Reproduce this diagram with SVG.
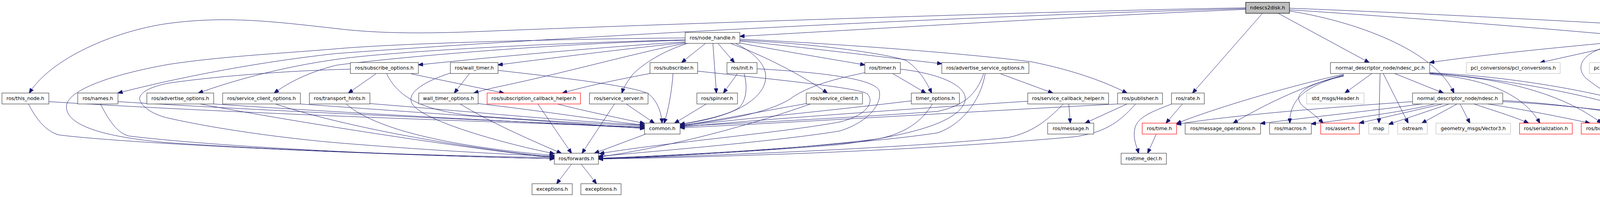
<svg xmlns="http://www.w3.org/2000/svg" width="5154" height="504" viewBox="0 0 5154 504">
<style>
.n rect{fill:#fff;stroke:#404040;stroke-width:1.2}
.g rect{fill:#fff;stroke:#bfbfbf;stroke-width:1.2}
.r rect{fill:#fff;stroke:#ff0000;stroke-width:1.2}
.root rect{fill:#bfbfbf;stroke:#000;stroke-width:1.2}
text{font-family:"DejaVu Sans","Liberation Sans",sans-serif;font-size:12.7px;text-anchor:middle;fill:#000}
.e path{fill:none;stroke:#191970;stroke-width:1;marker-end:url(#a)}
</style>
<defs>
<marker id="a" markerWidth="13" markerHeight="10" refX="12" refY="5" orient="auto" markerUnits="userSpaceOnUse">
<path d="M0,0 L13,5 L0,10 z" fill="#191970" stroke="#191970" stroke-width="1"/>
</marker>
</defs>
<rect width="5154" height="504" fill="#fff"/>
<g class="e" id="edges">
<path d="M3189,24 C2800,40 2300,70 1894,93"/>
<path d="M3189,20 C2700,28 1700,62 1290,78 C1150,84 1000,90 860,73 C700,55 580,40 430,60 C290,80 130,150 75,238"/>
<path d="M3189,22 C2500,40 1500,90 860,137 C650,160 450,200 302,238"/>
<path d="M3232,34 L3053,238"/>
<path d="M3272,34 L3505,160"/>
<path d="M3301,28 C3500,60 3680,140 3722,238"/>
<path d="M3301,25 C3600,45 3900,68 4143,90"/>
<path d="M3301,21 C3800,40 4500,80 4730,98 C5000,125 5150,150 5147,182 C5145,230 5000,270 4730,302 C4600,316 4500,322 4419,327"/>
<path d="M1806,111 L1745,160"/>
<path d="M1825,111 L1834,238"/>
<path d="M1838,111 L1880,160"/>
<path d="M1870,111 C1950,140 2050,190 2118,238"/>
<path d="M1883,111 C1940,140 1980,180 1950,230 C1910,290 1800,310 1741,318"/>
<path d="M1894,100 C2200,115 2500,140 2640,158 C2750,180 2830,210 2885,238"/>
<path d="M1894,110 C2000,130 2120,150 2214,166"/>
<path d="M1894,105 C2050,120 2250,145 2411,163"/>
<path d="M1894,103 C2100,112 2280,140 2320,155 C2350,175 2370,205 2385,238"/>
<path d="M1754,97 C1400,100 1000,112 860,125 C700,138 560,145 430,165 C290,190 170,230 170,273 C170,320 260,350 430,365 C800,390 1200,400 1419,403"/>
<path d="M1754,102 C1400,110 1000,132 860,152 C720,172 600,205 508,238"/>
<path d="M1754,103 C1400,112 1000,148 860,167 C790,185 740,210 702,238"/>
<path d="M1754,107 C1550,120 1300,142 1071,166"/>
<path d="M1754,109 C1600,125 1400,150 1275,166"/>
<path d="M1754,111 C1650,130 1450,185 1290,219 C1260,225 1240,230 1213,238"/>
<path d="M1760,111 C1700,130 1650,160 1620,190 C1605,210 1596,225 1592,238"/>
<path d="M1664,188 C1600,200 1500,220 1440,238"/>
<path d="M1723,188 C1720,230 1712,280 1700,315"/>
<path d="M1786,182 C2000,205 2200,225 2220,240 C2240,260 2220,295 2150,312 C2000,340 1700,365 1535,393"/>
<path d="M1888,188 L1852,238"/>
<path d="M1905,189 C1915,225 1910,260 1890,277 C1860,295 1800,308 1741,318"/>
<path d="M1938,176 C2100,185 2230,200 2250,230 C2260,260 2230,310 2150,335 C2000,360 1700,385 1532,400"/>
<path d="M1808,266 L1727,315"/>
<path d="M2064,265 C1950,285 1850,305 1741,322"/>
<path d="M2075,266 C1950,310 1750,370 1532,402"/>
<path d="M2285,188 L2370,238"/>
<path d="M2214,186 C2120,205 2060,225 2020,255 C1960,290 1850,310 1741,320"/>
<path d="M2305,177 C2420,190 2480,225 2470,260 C2450,320 2300,350 2150,370 C1900,390 1700,400 1532,405"/>
<path d="M2333,258 C2150,280 1900,305 1741,322"/>
<path d="M2387,266 C2360,310 2320,340 2250,355 C2050,380 1750,400 1532,406"/>
<path d="M2562,189 L2695,238"/>
<path d="M2518,189 C2500,240 2470,270 2400,285 C2200,300 1900,315 1741,323"/>
<path d="M2522,189 C2510,260 2460,320 2400,340 C2200,370 1800,395 1532,405"/>
<path d="M2736,266 L2740,315"/>
<path d="M2722,266 C2680,310 2640,340 2580,352 C2300,380 1800,400 1532,406"/>
<path d="M2631,259 C2300,280 1900,310 1741,325"/>
<path d="M2885,266 L2778,315"/>
<path d="M2907,266 C2860,320 2820,340 2750,350 C2300,390 1800,402 1532,407"/>
<path d="M2861,266 C2500,285 2000,315 1741,327"/>
<path d="M3027,266 L2985,315"/>
<path d="M3000,266 C2950,285 2910,300 2905,330 C2900,355 2910,375 2915,392"/>
<path d="M2960,343 L2938,392"/>
<path d="M1377,266 L1463,392"/>
<path d="M1427,266 C1500,285 1600,305 1650,316"/>
<path d="M1573,266 L1490,392"/>
<path d="M1603,266 L1675,315"/>
<path d="M1653,343 L1522,392"/>
<path d="M1202,188 L1163,238"/>
<path d="M1275,180 C1450,200 1620,220 1660,240 C1685,260 1693,290 1695,315"/>
<path d="M1153,187 C1080,210 1040,240 1055,265 C1080,310 1300,370 1419,393"/>
<path d="M1224,265 C1400,285 1550,310 1650,320"/>
<path d="M1178,266 C1250,310 1350,355 1437,392"/>
<path d="M962,189 L892,238"/>
<path d="M1053,189 L1290,238"/>
<path d="M990,189 C1020,250 1080,280 1200,295 C1400,310 1550,318 1650,322"/>
<path d="M897,177 C750,180 550,195 430,213 C370,225 350,245 360,260 C370,280 400,295 430,302 C600,340 800,360 860,365 C1100,385 1300,395 1419,400"/>
<path d="M947,265 C1200,285 1450,310 1650,320"/>
<path d="M887,267 C950,320 1100,370 1419,398"/>
<path d="M125,260 C600,290 1200,310 1650,325"/>
<path d="M73,266 C90,300 115,335 150,345 C300,365 900,395 1419,406"/>
<path d="M302,260 C700,285 1200,305 1650,326"/>
<path d="M257,266 C280,310 300,340 330,348 C600,380 1100,400 1419,406"/>
<path d="M547,266 C900,290 1300,310 1650,328"/>
<path d="M512,266 C800,320 1200,380 1419,404"/>
<path d="M769,266 C1100,290 1400,310 1650,329"/>
<path d="M705,266 C900,330 1200,380 1419,402"/>
<path d="M1463,420 L1425,470"/>
<path d="M1488,420 L1527,470"/>
<path d="M4165,111 L3943,160"/>
<path d="M4218,111 L4175,160"/>
<path d="M4245,111 L4292,160"/>
<path d="M4263,111 L4365,160"/>
<path d="M4300,111 L4560,160"/>
<path d="M4320,102 C4500,115 4700,140 4829,162"/>
<path d="M4320,104 C4600,120 4800,140 4927,160"/>
<path d="M4143,107 C3950,125 3800,140 3660,160"/>
<path d="M4143,112 C4050,130 4030,170 4060,200 C4120,250 4220,290 4270,315"/>
<path d="M3512,188 L3443,238"/>
<path d="M3533,188 L3530,315"/>
<path d="M3541,188 L3605,315"/>
<path d="M3570,188 L3695,238"/>
<path d="M3440,190 C3300,220 3100,280 3012,316"/>
<path d="M3440,192 C3350,215 3250,260 3157,315"/>
<path d="M3440,193 C3360,215 3300,245 3302,315"/>
<path d="M3440,195 C3340,215 3300,245 3340,275 C3360,290 3375,302 3387,315"/>
<path d="M3660,190 C3800,200 3900,240 3942,315"/>
<path d="M3660,188 C3850,200 4000,240 4100,315"/>
<path d="M3660,187 C3900,205 4150,260 4270,313"/>
<path d="M3660,186 C3950,200 4200,260 4352,317"/>
<path d="M3616,260 C3400,275 3150,295 3012,318"/>
<path d="M3640,266 C3500,285 3350,300 3227,316"/>
<path d="M3673,266 C3600,285 3450,305 3357,317"/>
<path d="M3693,266 L3480,315"/>
<path d="M3710,266 L3555,318"/>
<path d="M3730,266 L3640,315"/>
<path d="M3738,266 L3763,315"/>
<path d="M3773,266 C3830,285 3880,300 3913,315"/>
<path d="M3808,266 C3900,280 4000,300 4070,315"/>
<path d="M3847,257 C4000,265 4200,295 4275,315"/>
<path d="M3847,260 C4050,270 4250,300 4360,318"/>
</g>
<g id="root" class="root"><rect x="3189" y="6" width="112" height="28"/><text x="3245" y="24">ndescs2disk.h</text></g>
<g id="node_handle" class="n"><rect x="1754" y="83" width="140" height="28"/><text x="1824" y="101">ros/node_handle.h</text></g>
<g id="alg" class="n"><rect x="4143" y="83" width="177" height="28"/><text x="4231.5" y="101">normal_descriptor_alg.h</text></g>
<g id="subscribe_options" class="n"><rect x="897" y="160" width="174" height="28"/><text x="984" y="178">ros/subscribe_options.h</text></g>
<g id="wall_timer" class="n"><rect x="1153" y="160" width="122" height="28"/><text x="1214" y="178">ros/wall_timer.h</text></g>
<g id="subscriber" class="n"><rect x="1664" y="160" width="122" height="28"/><text x="1725" y="178">ros/subscriber.h</text></g>
<g id="init" class="n"><rect x="1861" y="160" width="77" height="28"/><text x="1899.5" y="178">ros/init.h</text></g>
<g id="timer" class="n"><rect x="2214" y="160" width="91" height="28"/><text x="2259.5" y="178">ros/timer.h</text></g>
<g id="adv_srv_opts" class="n"><rect x="2411" y="160" width="223" height="28"/><text x="2522.5" y="178">ros/advertise_service_options.h</text></g>
<g id="ndesc_pc" class="n"><rect x="3406" y="160" width="254" height="28"/><text x="3533" y="178">normal_descriptor_node/ndesc_pc.h</text></g>
<g id="pcl_conv" class="g"><rect x="3754" y="160" width="240" height="28"/><text x="3874" y="178">pcl_conversions/pcl_conversions.h</text></g>
<g id="normal_3d" class="g"><rect x="4069" y="160" width="181" height="28"/><text x="4159.5" y="178">pcl/features/normal_3d.h</text></g>
<g id="cmath" class="g"><rect x="4274" y="160" width="63" height="28"/><text x="4305.5" y="178">cmath</text></g>
<g id="sstream" class="g"><rect x="4360" y="160" width="75" height="28"/><text x="4397.5" y="178">sstream</text></g>
<g id="ndconfig" class="g"><rect x="4458" y="160" width="347" height="28"/><text x="4631.5" y="178">normal_descriptor_node/NormalDescriptorConfig.h</text></g>
<g id="mutex" class="g"><rect x="4829" y="160" width="75" height="28"/><text x="4866.5" y="178">mutex.h</text></g>
<g id="pointcloud2" class="g"><rect x="4927" y="160" width="199" height="28"/><text x="5026.5" y="178">sensor_msgs/PointCloud2.h</text></g>
<g id="this_node" class="n"><rect x="5" y="238" width="120" height="28"/><text x="65" y="256">ros/this_node.h</text></g>
<g id="names" class="n"><rect x="199" y="238" width="103" height="28"/><text x="250.5" y="256">ros/names.h</text></g>
<g id="adv_opts" class="n"><rect x="376" y="238" width="171" height="28"/><text x="461.5" y="256">ros/advertise_options.h</text></g>
<g id="srv_client_opts" class="n"><rect x="570" y="238" width="199" height="28"/><text x="669.5" y="256">ros/service_client_options.h</text></g>
<g id="transport_hints" class="n"><rect x="792" y="238" width="155" height="28"/><text x="869.5" y="256">ros/transport_hints.h</text></g>
<g id="wall_timer_opts" class="n"><rect x="1072" y="238" width="152" height="28"/><text x="1148" y="256">wall_timer_options.h</text></g>
<g id="sub_cb_helper" class="r"><rect x="1247" y="238" width="239" height="28"/><text x="1366.5" y="256">ros/subscription_callback_helper.h</text></g>
<g id="service_server" class="n"><rect x="1509" y="238" width="150" height="28"/><text x="1584" y="256">ros/service_server.h</text></g>
<g id="spinner" class="n"><rect x="1784" y="238" width="104" height="28"/><text x="1836" y="256">ros/spinner.h</text></g>
<g id="service_client" class="n"><rect x="2064" y="238" width="144" height="28"/><text x="2136" y="256">ros/service_client.h</text></g>
<g id="timer_opts" class="n"><rect x="2333" y="238" width="123" height="28"/><text x="2394.5" y="256">timer_options.h</text></g>
<g id="srv_cb_helper" class="n"><rect x="2631" y="238" width="207" height="28"/><text x="2734.5" y="256">ros/service_callback_helper.h</text></g>
<g id="publisher" class="n"><rect x="2861" y="238" width="115" height="28"/><text x="2918.5" y="256">ros/publisher.h</text></g>
<g id="rate" class="n"><rect x="2999" y="238" width="84" height="28"/><text x="3041" y="256">ros/rate.h</text></g>
<g id="header" class="g"><rect x="3345" y="238" width="147" height="28"/><text x="3418.5" y="256">std_msgs/Header.h</text></g>
<g id="ndesc" class="n"><rect x="3616" y="238" width="231" height="28"/><text x="3731.5" y="256">normal_descriptor_node/ndesc.h</text></g>
<g id="common" class="n"><rect x="1650" y="315" width="91" height="28"/><text x="1695.5" y="333">common.h</text></g>
<g id="message" class="n"><rect x="2682" y="315" width="118" height="28"/><text x="2741" y="333">ros/message.h</text></g>
<g id="time" class="r"><rect x="2924" y="315" width="88" height="28"/><text x="2968" y="333">ros/time.h</text></g>
<g id="msg_ops" class="n"><rect x="3034" y="315" width="193" height="28"/><text x="3130.5" y="333">ros/message_operations.h</text></g>
<g id="macros" class="n"><rect x="3250" y="315" width="107" height="28"/><text x="3303.5" y="333">ros/macros.h</text></g>
<g id="assert" class="r"><rect x="3381" y="315" width="99" height="28"/><text x="3430.5" y="333">ros/assert.h</text></g>
<g id="map" class="g"><rect x="3504" y="315" width="51" height="28"/><text x="3529.5" y="333">map</text></g>
<g id="ostream" class="g"><rect x="3578" y="315" width="76" height="28"/><text x="3616" y="333">ostream</text></g>
<g id="vector3" class="g"><rect x="3676" y="315" width="191" height="28"/><text x="3771.5" y="333">geometry_msgs/Vector3.h</text></g>
<g id="serialization" class="r"><rect x="3890" y="315" width="135" height="28"/><text x="3957.5" y="333">ros/serialization.h</text></g>
<g id="builtin_traits" class="r"><rect x="4048" y="315" width="203" height="28"/><text x="4149.5" y="333">ros/builtin_message_traits.h</text></g>
<g id="vector" class="g"><rect x="4274" y="315" width="63" height="28"/><text x="4305.5" y="333">vector</text></g>
<g id="string" class="g"><rect x="4360" y="315" width="59" height="28"/><text x="4389.5" y="333">string</text></g>
<g id="forwards" class="n"><rect x="1419" y="392" width="113" height="28"/><text x="1475.5" y="410">ros/forwards.h</text></g>
<g id="rostime_decl" class="n"><rect x="2870" y="392" width="116" height="28"/><text x="2928" y="410">rostime_decl.h</text></g>
<g id="exceptions1" class="n"><rect x="1362" y="470" width="103" height="28"/><text x="1413.5" y="488">exceptions.h</text></g>
<g id="exceptions2" class="n"><rect x="1487" y="470" width="103" height="28"/><text x="1538.5" y="488">exceptions.h</text></g>
</svg>
